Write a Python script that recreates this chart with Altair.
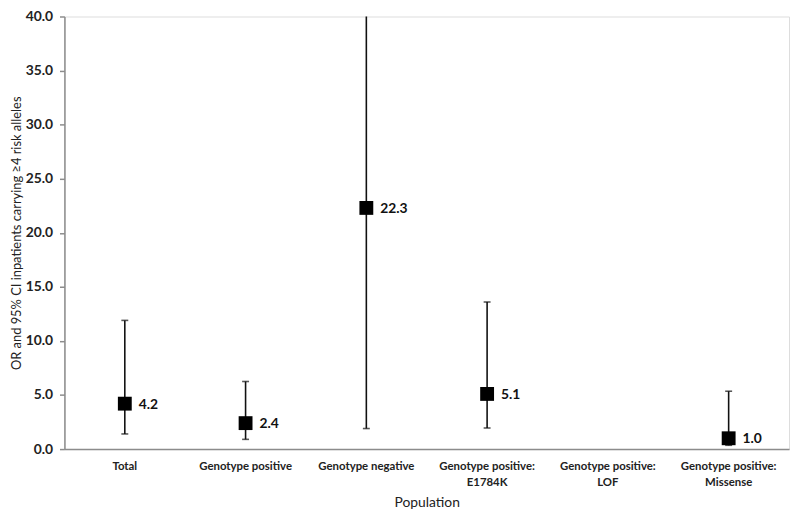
import altair as alt
import pandas as pd

categories = ["Total", "Genotype positive", "Genotype negative",
              "Genotype positive: E1784K", "Genotype positive: LOF",
              "Genotype positive: Missense"]
or_values = [4.2, 2.4, 22.3, 5.1, None, 1.0]
ci_lower = [1.4, 0.9, 1.9, 1.95, None, 0.35]
ci_upper = [11.9, 6.25, 40.0, 13.6, None, 5.35]
labels = ["4.2", "2.4", "22.3", "5.1", "", "1.0"]

df = pd.DataFrame({"Population": categories, "OR": or_values,
                   "lo": ci_lower, "hi": ci_upper, "label": labels})
df = df.dropna()

caps = pd.concat([
    df[["Population", "lo"]].rename(columns={"lo": "v"}),
    df[["Population", "hi"]].rename(columns={"hi": "v"}),
])
caps = caps[caps["v"] < 40]

FONT = "Lato"
label_expr = ("indexof(datum.label, ':') > 0 ? "
              "[slice(datum.label, 0, indexof(datum.label, ':') + 1), "
              "trim(slice(datum.label, indexof(datum.label, ':') + 1))] : datum.label")

xenc = alt.X("Population:N", sort=categories,
             scale=alt.Scale(domain=categories, paddingInner=0, paddingOuter=0),
             axis=alt.Axis(title="Population", labelAngle=0, ticks=False,
                           labelFont=FONT, labelFontWeight="bold", labelFontSize=11.5,
                           labelColor="#222", labelPadding=12, labelLineHeight=16,
                           labelExpr=label_expr,
                           titleFont=FONT, titleFontSize=14, titleFontWeight="normal",
                           titleColor="#222", titlePadding=8,
                           domainColor="#8c8c8c", domainWidth=1.5))
yscale = alt.Scale(domain=[0, 40], nice=False)
yaxis = alt.Axis(title="OR and 95% CI inpatients carrying \u22654 risk alleles",
                 values=[0, 5, 10, 15, 20, 25, 30, 35, 40], format=".1f",
                 grid=False, tickColor="#8c8c8c", tickSize=5, tickWidth=1.5,
                 domainColor="#8c8c8c", domainWidth=1.5,
                 labelFont=FONT, labelFontWeight="bold", labelFontSize=14,
                 labelColor="#222", labelPadding=7,
                 titleFont=FONT, titleFontSize=13, titleFontWeight="normal",
                 titleColor="#222", titlePadding=2)

base = alt.Chart(df)

rules = base.mark_rule(color="#111", strokeWidth=1.6).encode(
    x=xenc,
    y=alt.Y("lo:Q", scale=yscale, axis=yaxis),
    y2="hi:Q",
)

capmarks = alt.Chart(caps).mark_tick(color="#111", thickness=1.6, size=7).encode(
    x=alt.X("Population:N", sort=categories),
    y=alt.Y("v:Q", scale=yscale),
)

points = base.mark_square(color="#000", opacity=1, size=196).encode(
    x=alt.X("Population:N", sort=categories),
    y=alt.Y("OR:Q", scale=yscale),
)

text = base.mark_text(align="left", baseline="middle", dx=14, dy=1,
                      font=FONT, fontWeight="bold", fontSize=14, color="#111").encode(
    x=alt.X("Population:N", sort=categories),
    y=alt.Y("OR:Q", scale=yscale),
    text="label:N",
)

chart = alt.layer(rules, capmarks, points, text).properties(
    width=732, height=437,
    autosize=alt.AutoSizeParams(type="none"),
    padding={"left": 57, "top": 6, "right": 3, "bottom": 64},
).configure_view(stroke=None).configure(background="white")

chart.save("out.html", embed_options={"renderer": "svg", "actions": False})
